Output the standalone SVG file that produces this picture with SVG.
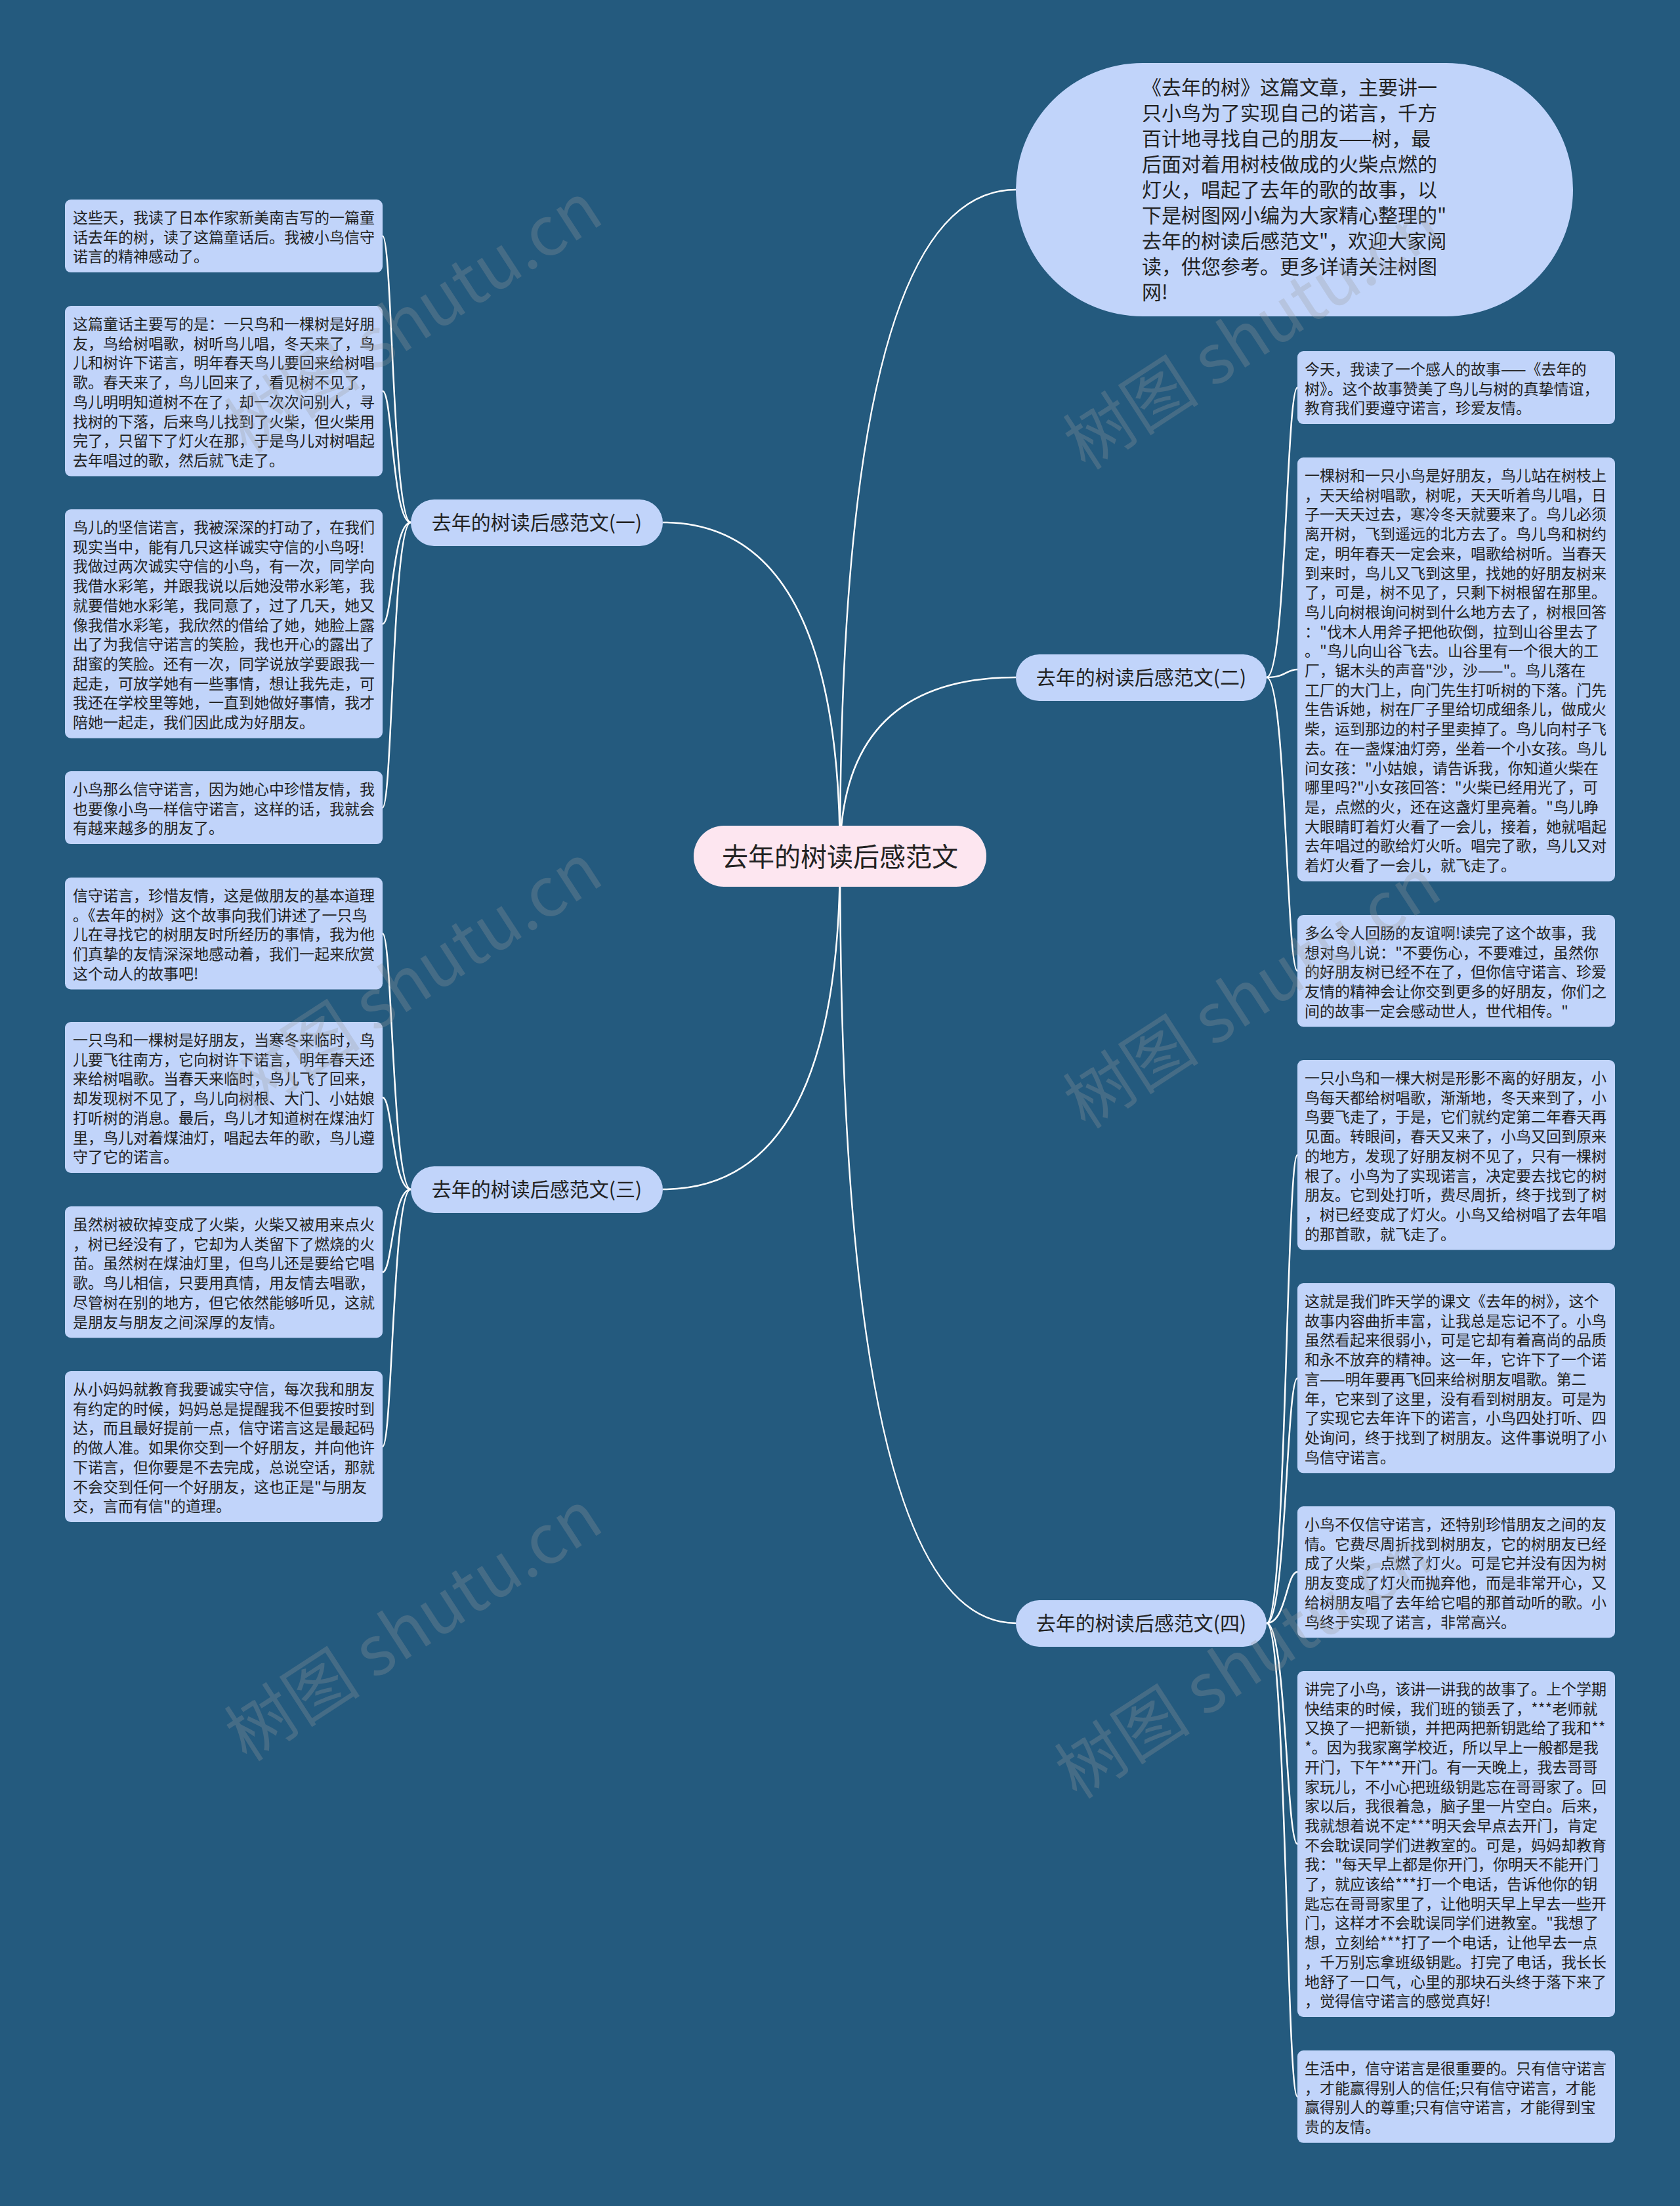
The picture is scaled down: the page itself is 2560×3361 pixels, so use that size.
<svg xmlns="http://www.w3.org/2000/svg" width="2560" height="3361" viewBox="0 0 2560 3361">
<style>
.bg{fill:#245a7e}
.leaf{fill:#c1d4fa}
.lt{font-family:"Noto Sans CJK SC","Noto Sans",sans-serif;font-size:23px;fill:#222}
.br{fill:#c1d4fa}
.bt{font-family:"Noto Sans CJK SC","Noto Sans",sans-serif;font-size:30px;fill:#222;text-anchor:middle}
.ct{font-family:"Noto Sans CJK SC","Noto Sans",sans-serif;font-size:40px;fill:#222;text-anchor:middle}
.st{font-family:"Noto Sans CJK SC","Noto Sans",sans-serif;font-size:30px;fill:#222}
.ln{fill:none;stroke:#ffffff;stroke-width:2.5}
.wm{font-family:"Noto Sans CJK SC","Noto Sans",sans-serif;font-size:104px;fill:#9a9a9a;fill-opacity:0.28;text-anchor:middle}
</style>
<rect class="bg" x="0" y="0" width="2560" height="3361"/>

<g id="connectors">
<path class="ln" d="M1280 1305 Q1280 289 1548 289"/>
<path class="ln" d="M1280 1305 Q1280 1032 1548 1032"/>
<path class="ln" d="M1280 1305 Q1280 2473 1548 2473"/>
<path class="ln" d="M1280 1305 Q1280 796 1010 796"/>
<path class="ln" d="M1280 1305 Q1280 1812 1010 1812"/>
<path class="ln" d="M626 796 C598 796 598 359.5 583 359.5"/>
<path class="ln" d="M626 796 C598 796 598 595.8 583 595.8"/>
<path class="ln" d="M626 796 C598 796 598 950.4 583 950.4"/>
<path class="ln" d="M626 796 C598 796 598 1230.5 583 1230.5"/>
<path class="ln" d="M626 1812 C598 1812 598 1422.3 583 1422.3"/>
<path class="ln" d="M626 1812 C598 1812 598 1672 583 1672"/>
<path class="ln" d="M626 1812 C598 1812 598 1938.1 583 1938.1"/>
<path class="ln" d="M626 1812 C598 1812 598 2204 583 2204"/>
<path class="ln" d="M1930 1032 C1960 1032 1960 590.5 1977 590.5"/>
<path class="ln" d="M1930 1032 C1960 1032 1960 1019.9 1977 1019.9"/>
<path class="ln" d="M1930 1032 C1960 1032 1960 1479.3 1977 1479.3"/>
<path class="ln" d="M1930 2473 C1960 2473 1960 1759.7 1977 1759.7"/>
<path class="ln" d="M1930 2473 C1960 2473 1960 2099.7 1977 2099.7"/>
<path class="ln" d="M1930 2473 C1960 2473 1960 2395.1 1977 2395.1"/>
<path class="ln" d="M1930 2473 C1960 2473 1960 2809.5 1977 2809.5"/>
<path class="ln" d="M1930 2473 C1960 2473 1960 3194.4 1977 3194.4"/>
</g>

<g id="center">
<rect x="1057" y="1258" width="446" height="93" rx="46" fill="#fde6f0"/>
<text class="ct" x="1280" y="1320">去年的树读后感范文</text>
</g>

<g id="summary">
<rect x="1548" y="96" width="849" height="386" rx="193" fill="#c1d4fa"/>
<text class="st">
<tspan x="1740" y="144">《去年的树》这篇文章，主要讲一</tspan>
<tspan x="1740" y="183">只小鸟为了实现自己的诺言，千方</tspan>
<tspan x="1740" y="222">百计地寻找自己的朋友——树，最</tspan>
<tspan x="1740" y="261">后面对着用树枝做成的火柴点燃的</tspan>
<tspan x="1740" y="300">灯火，唱起了去年的歌的故事，以</tspan>
<tspan x="1740" y="339">下是树图网小编为大家精心整理的"</tspan>
<tspan x="1740" y="378">去年的树读后感范文"，欢迎大家阅</tspan>
<tspan x="1740" y="417">读，供您参考。更多详请关注树图</tspan>
<tspan x="1740" y="456">网!</tspan>
</text>
</g>

<g id="branch1">
<rect class="br" x="626" y="761" width="384" height="71" rx="35.5"/>
<text class="bt" x="818" y="807">去年的树读后感范文(一)</text>
</g>
<g id="branch2">
<rect class="br" x="1548" y="997" width="382" height="71" rx="35.5"/>
<text class="bt" x="1739" y="1043">去年的树读后感范文(二)</text>
</g>
<g id="branch3">
<rect class="br" x="626" y="1777" width="384" height="71" rx="35.5"/>
<text class="bt" x="818" y="1823">去年的树读后感范文(三)</text>
</g>
<g id="branch4">
<rect class="br" x="1548" y="2438" width="382" height="71" rx="35.5"/>
<text class="bt" x="1739" y="2484">去年的树读后感范文(四)</text>
</g>

<g id="leafL1">
<rect class="leaf" x="99" y="304" width="484" height="111.1" rx="9"/>
<text class="lt" x="111" y="340">
<tspan x="111" dy="0">这些天，我读了日本作家新美南吉写的一篇童</tspan>
<tspan x="111" dy="29.7">话去年的树，读了这篇童话后。我被小鸟信守</tspan>
<tspan x="111" dy="29.7">诺言的精神感动了。</tspan>
</text>
</g>
<g id="leafL2">
<rect class="leaf" x="99" y="466" width="484" height="259.6" rx="9"/>
<text class="lt" x="111" y="502">
<tspan x="111" dy="0">这篇童话主要写的是：一只鸟和一棵树是好朋</tspan>
<tspan x="111" dy="29.7">友，鸟给树唱歌，树听鸟儿唱，冬天来了，鸟</tspan>
<tspan x="111" dy="29.7">儿和树许下诺言，明年春天鸟儿要回来给树唱</tspan>
<tspan x="111" dy="29.7">歌。春天来了，鸟儿回来了，看见树不见了，</tspan>
<tspan x="111" dy="29.7">鸟儿明明知道树不在了，却一次次问别人，寻</tspan>
<tspan x="111" dy="29.7">找树的下落，后来鸟儿找到了火柴，但火柴用</tspan>
<tspan x="111" dy="29.7">完了，只留下了灯火在那，于是鸟儿对树唱起</tspan>
<tspan x="111" dy="29.7">去年唱过的歌，然后就飞走了。</tspan>
</text>
</g>
<g id="leafL3">
<rect class="leaf" x="99" y="776" width="484" height="348.7" rx="9"/>
<text class="lt" x="111" y="812">
<tspan x="111" dy="0">鸟儿的坚信诺言，我被深深的打动了，在我们</tspan>
<tspan x="111" dy="29.7">现实当中，能有几只这样诚实守信的小鸟呀!</tspan>
<tspan x="111" dy="29.7">我做过两次诚实守信的小鸟，有一次，同学向</tspan>
<tspan x="111" dy="29.7">我借水彩笔，并跟我说以后她没带水彩笔，我</tspan>
<tspan x="111" dy="29.7">就要借她水彩笔，我同意了，过了几天，她又</tspan>
<tspan x="111" dy="29.7">像我借水彩笔，我欣然的借给了她，她脸上露</tspan>
<tspan x="111" dy="29.7">出了为我信守诺言的笑脸，我也开心的露出了</tspan>
<tspan x="111" dy="29.7">甜蜜的笑脸。还有一次，同学说放学要跟我一</tspan>
<tspan x="111" dy="29.7">起走，可放学她有一些事情，想让我先走，可</tspan>
<tspan x="111" dy="29.7">我还在学校里等她，一直到她做好事情，我才</tspan>
<tspan x="111" dy="29.7">陪她一起走，我们因此成为好朋友。</tspan>
</text>
</g>
<g id="leafL4">
<rect class="leaf" x="99" y="1175" width="484" height="111.1" rx="9"/>
<text class="lt" x="111" y="1211">
<tspan x="111" dy="0">小鸟那么信守诺言，因为她心中珍惜友情，我</tspan>
<tspan x="111" dy="29.7">也要像小鸟一样信守诺言，这样的话，我就会</tspan>
<tspan x="111" dy="29.7">有越来越多的朋友了。</tspan>
</text>
</g>
<g id="leafL5">
<rect class="leaf" x="99" y="1337" width="484" height="170.5" rx="9"/>
<text class="lt" x="111" y="1373">
<tspan x="111" dy="0">信守诺言，珍惜友情，这是做朋友的基本道理</tspan>
<tspan x="111" dy="29.7">。《去年的树》这个故事向我们讲述了一只鸟</tspan>
<tspan x="111" dy="29.7">儿在寻找它的树朋友时所经历的事情，我为他</tspan>
<tspan x="111" dy="29.7">们真挚的友情深深地感动着，我们一起来欣赏</tspan>
<tspan x="111" dy="29.7">这个动人的故事吧!</tspan>
</text>
</g>
<g id="leafL6">
<rect class="leaf" x="99" y="1557" width="484" height="229.9" rx="9"/>
<text class="lt" x="111" y="1593">
<tspan x="111" dy="0">一只鸟和一棵树是好朋友，当寒冬来临时，鸟</tspan>
<tspan x="111" dy="29.7">儿要飞往南方，它向树许下诺言，明年春天还</tspan>
<tspan x="111" dy="29.7">来给树唱歌。当春天来临时，鸟儿飞了回来，</tspan>
<tspan x="111" dy="29.7">却发现树不见了，鸟儿向树根、大门、小姑娘</tspan>
<tspan x="111" dy="29.7">打听树的消息。最后，鸟儿才知道树在煤油灯</tspan>
<tspan x="111" dy="29.7">里，鸟儿对着煤油灯，唱起去年的歌，鸟儿遵</tspan>
<tspan x="111" dy="29.7">守了它的诺言。</tspan>
</text>
</g>
<g id="leafL7">
<rect class="leaf" x="99" y="1838" width="484" height="200.2" rx="9"/>
<text class="lt" x="111" y="1874">
<tspan x="111" dy="0">虽然树被砍掉变成了火柴，火柴又被用来点火</tspan>
<tspan x="111" dy="29.7">，树已经没有了，它却为人类留下了燃烧的火</tspan>
<tspan x="111" dy="29.7">苗。虽然树在煤油灯里，但鸟儿还是要给它唱</tspan>
<tspan x="111" dy="29.7">歌。鸟儿相信，只要用真情，用友情去唱歌，</tspan>
<tspan x="111" dy="29.7">尽管树在别的地方，但它依然能够听见，这就</tspan>
<tspan x="111" dy="29.7">是朋友与朋友之间深厚的友情。</tspan>
</text>
</g>
<g id="leafL8">
<rect class="leaf" x="99" y="2089" width="484" height="229.9" rx="9"/>
<text class="lt" x="111" y="2125">
<tspan x="111" dy="0">从小妈妈就教育我要诚实守信，每次我和朋友</tspan>
<tspan x="111" dy="29.7">有约定的时候，妈妈总是提醒我不但要按时到</tspan>
<tspan x="111" dy="29.7">达，而且最好提前一点，信守诺言这是最起码</tspan>
<tspan x="111" dy="29.7">的做人准。如果你交到一个好朋友，并向他许</tspan>
<tspan x="111" dy="29.7">下诺言，但你要是不去完成，总说空话，那就</tspan>
<tspan x="111" dy="29.7">不会交到任何一个好朋友，这也正是"与朋友</tspan>
<tspan x="111" dy="29.7">交，言而有信"的道理。</tspan>
</text>
</g>

<g id="leafR1">
<rect class="leaf" x="1977" y="535" width="484" height="111.1" rx="9"/>
<text class="lt" x="1988" y="571">
<tspan x="1988" dy="0">今天，我读了一个感人的故事——《去年的</tspan>
<tspan x="1988" dy="29.7">树》。这个故事赞美了鸟儿与树的真挚情谊，</tspan>
<tspan x="1988" dy="29.7">教育我们要遵守诺言，珍爱友情。</tspan>
</text>
</g>
<g id="leafR2">
<rect class="leaf" x="1977" y="697" width="484" height="645.7" rx="9"/>
<text class="lt" x="1988" y="733">
<tspan x="1988" dy="0">一棵树和一只小鸟是好朋友，鸟儿站在树枝上</tspan>
<tspan x="1988" dy="29.7">，天天给树唱歌，树呢，天天听着鸟儿唱，日</tspan>
<tspan x="1988" dy="29.7">子一天天过去，寒冷冬天就要来了。鸟儿必须</tspan>
<tspan x="1988" dy="29.7">离开树，飞到遥远的北方去了。鸟儿鸟和树约</tspan>
<tspan x="1988" dy="29.7">定，明年春天一定会来，唱歌给树听。当春天</tspan>
<tspan x="1988" dy="29.7">到来时，鸟儿又飞到这里，找她的好朋友树来</tspan>
<tspan x="1988" dy="29.7">了，可是，树不见了，只剩下树根留在那里。</tspan>
<tspan x="1988" dy="29.7">鸟儿向树根询问树到什么地方去了，树根回答</tspan>
<tspan x="1988" dy="29.7">："伐木人用斧子把他砍倒，拉到山谷里去了</tspan>
<tspan x="1988" dy="29.7">。"鸟儿向山谷飞去。山谷里有一个很大的工</tspan>
<tspan x="1988" dy="29.7">厂，锯木头的声音"沙，沙——"。鸟儿落在</tspan>
<tspan x="1988" dy="29.7">工厂的大门上，向门先生打听树的下落。门先</tspan>
<tspan x="1988" dy="29.7">生告诉她，树在厂子里给切成细条儿，做成火</tspan>
<tspan x="1988" dy="29.7">柴，运到那边的村子里卖掉了。鸟儿向村子飞</tspan>
<tspan x="1988" dy="29.7">去。在一盏煤油灯旁，坐着一个小女孩。鸟儿</tspan>
<tspan x="1988" dy="29.7">问女孩："小姑娘，请告诉我，你知道火柴在</tspan>
<tspan x="1988" dy="29.7">哪里吗?"小女孩回答："火柴已经用光了，可</tspan>
<tspan x="1988" dy="29.7">是，点燃的火，还在这盏灯里亮着。"鸟儿睁</tspan>
<tspan x="1988" dy="29.7">大眼睛盯着灯火看了一会儿，接着，她就唱起</tspan>
<tspan x="1988" dy="29.7">去年唱过的歌给灯火听。唱完了歌，鸟儿又对</tspan>
<tspan x="1988" dy="29.7">着灯火看了一会儿，就飞走了。</tspan>
</text>
</g>
<g id="leafR3">
<rect class="leaf" x="1977" y="1394" width="484" height="170.5" rx="9"/>
<text class="lt" x="1988" y="1430">
<tspan x="1988" dy="0">多么令人回肠的友谊啊!读完了这个故事，我</tspan>
<tspan x="1988" dy="29.7">想对鸟儿说："不要伤心，不要难过，虽然你</tspan>
<tspan x="1988" dy="29.7">的好朋友树已经不在了，但你信守诺言、珍爱</tspan>
<tspan x="1988" dy="29.7">友情的精神会让你交到更多的好朋友，你们之</tspan>
<tspan x="1988" dy="29.7">间的故事一定会感动世人，世代相传。"</tspan>
</text>
</g>
<g id="leafR4">
<rect class="leaf" x="1977" y="1615" width="484" height="289.3" rx="9"/>
<text class="lt" x="1988" y="1651">
<tspan x="1988" dy="0">一只小鸟和一棵大树是形影不离的好朋友，小</tspan>
<tspan x="1988" dy="29.7">鸟每天都给树唱歌，渐渐地，冬天来到了，小</tspan>
<tspan x="1988" dy="29.7">鸟要飞走了，于是，它们就约定第二年春天再</tspan>
<tspan x="1988" dy="29.7">见面。转眼间，春天又来了，小鸟又回到原来</tspan>
<tspan x="1988" dy="29.7">的地方，发现了好朋友树不见了，只有一棵树</tspan>
<tspan x="1988" dy="29.7">根了。小鸟为了实现诺言，决定要去找它的树</tspan>
<tspan x="1988" dy="29.7">朋友。它到处打听，费尽周折，终于找到了树</tspan>
<tspan x="1988" dy="29.7">，树已经变成了灯火。小鸟又给树唱了去年唱</tspan>
<tspan x="1988" dy="29.7">的那首歌，就飞走了。</tspan>
</text>
</g>
<g id="leafR5">
<rect class="leaf" x="1977" y="1955" width="484" height="289.3" rx="9"/>
<text class="lt" x="1988" y="1991">
<tspan x="1988" dy="0">这就是我们昨天学的课文《去年的树》，这个</tspan>
<tspan x="1988" dy="29.7">故事内容曲折丰富，让我总是忘记不了。小鸟</tspan>
<tspan x="1988" dy="29.7">虽然看起来很弱小，可是它却有着高尚的品质</tspan>
<tspan x="1988" dy="29.7">和永不放弃的精神。这一年，它许下了一个诺</tspan>
<tspan x="1988" dy="29.7">言——明年要再飞回来给树朋友唱歌。第二</tspan>
<tspan x="1988" dy="29.7">年，它来到了这里，没有看到树朋友。可是为</tspan>
<tspan x="1988" dy="29.7">了实现它去年许下的诺言，小鸟四处打听、四</tspan>
<tspan x="1988" dy="29.7">处询问，终于找到了树朋友。这件事说明了小</tspan>
<tspan x="1988" dy="29.7">鸟信守诺言。</tspan>
</text>
</g>
<g id="leafR6">
<rect class="leaf" x="1977" y="2295" width="484" height="200.2" rx="9"/>
<text class="lt" x="1988" y="2331">
<tspan x="1988" dy="0">小鸟不仅信守诺言，还特别珍惜朋友之间的友</tspan>
<tspan x="1988" dy="29.7">情。它费尽周折找到树朋友，它的树朋友已经</tspan>
<tspan x="1988" dy="29.7">成了火柴，点燃了灯火。可是它并没有因为树</tspan>
<tspan x="1988" dy="29.7">朋友变成了灯火而抛弃他，而是非常开心，又</tspan>
<tspan x="1988" dy="29.7">给树朋友唱了去年给它唱的那首动听的歌。小</tspan>
<tspan x="1988" dy="29.7">鸟终于实现了诺言，非常高兴。</tspan>
</text>
</g>
<g id="leafR7">
<rect class="leaf" x="1977" y="2546" width="484" height="526.9" rx="9"/>
<text class="lt" x="1988" y="2582">
<tspan x="1988" dy="0">讲完了小鸟，该讲一讲我的故事了。上个学期</tspan>
<tspan x="1988" dy="29.7">快结束的时候，我们班的锁丢了，***老师就</tspan>
<tspan x="1988" dy="29.7">又换了一把新锁，并把两把新钥匙给了我和**</tspan>
<tspan x="1988" dy="29.7">*。因为我家离学校近，所以早上一般都是我</tspan>
<tspan x="1988" dy="29.7">开门，下午***开门。有一天晚上，我去哥哥</tspan>
<tspan x="1988" dy="29.7">家玩儿，不小心把班级钥匙忘在哥哥家了。回</tspan>
<tspan x="1988" dy="29.7">家以后，我很着急，脑子里一片空白。后来，</tspan>
<tspan x="1988" dy="29.7">我就想着说不定***明天会早点去开门，肯定</tspan>
<tspan x="1988" dy="29.7">不会耽误同学们进教室的。可是，妈妈却教育</tspan>
<tspan x="1988" dy="29.7">我："每天早上都是你开门，你明天不能开门</tspan>
<tspan x="1988" dy="29.7">了，就应该给***打一个电话，告诉他你的钥</tspan>
<tspan x="1988" dy="29.7">匙忘在哥哥家里了，让他明天早上早去一些开</tspan>
<tspan x="1988" dy="29.7">门，这样才不会耽误同学们进教室。"我想了</tspan>
<tspan x="1988" dy="29.7">想，立刻给***打了一个电话，让他早去一点</tspan>
<tspan x="1988" dy="29.7">，千万别忘拿班级钥匙。打完了电话，我长长</tspan>
<tspan x="1988" dy="29.7">地舒了一口气，心里的那块石头终于落下来了</tspan>
<tspan x="1988" dy="29.7">，觉得信守诺言的感觉真好!</tspan>
</text>
</g>
<g id="leafR8">
<rect class="leaf" x="1977" y="3124" width="484" height="140.8" rx="9"/>
<text class="lt" x="1988" y="3160">
<tspan x="1988" dy="0">生活中，信守诺言是很重要的。只有信守诺言</tspan>
<tspan x="1988" dy="29.7">，才能赢得别人的信任;只有信守诺言，才能</tspan>
<tspan x="1988" dy="29.7">赢得别人的尊重;只有信守诺言，才能得到宝</tspan>
<tspan x="1988" dy="29.7">贵的友情。</tspan>
</text>
</g>

<g id="watermarks">
<text class="wm" transform="translate(650 515) rotate(-33)">树图 shutu.cn</text>
<text class="wm" transform="translate(1928 540) rotate(-33)">树图 shutu.cn</text>
<text class="wm" transform="translate(650 1522) rotate(-33)">树图 shutu.cn</text>
<text class="wm" transform="translate(1928 1544) rotate(-33)">树图 shutu.cn</text>
<text class="wm" transform="translate(650 2508) rotate(-33)">树图 shutu.cn</text>
<text class="wm" transform="translate(1915 2565) rotate(-33)">树图 shutu.cn</text>
</g>
</svg>
